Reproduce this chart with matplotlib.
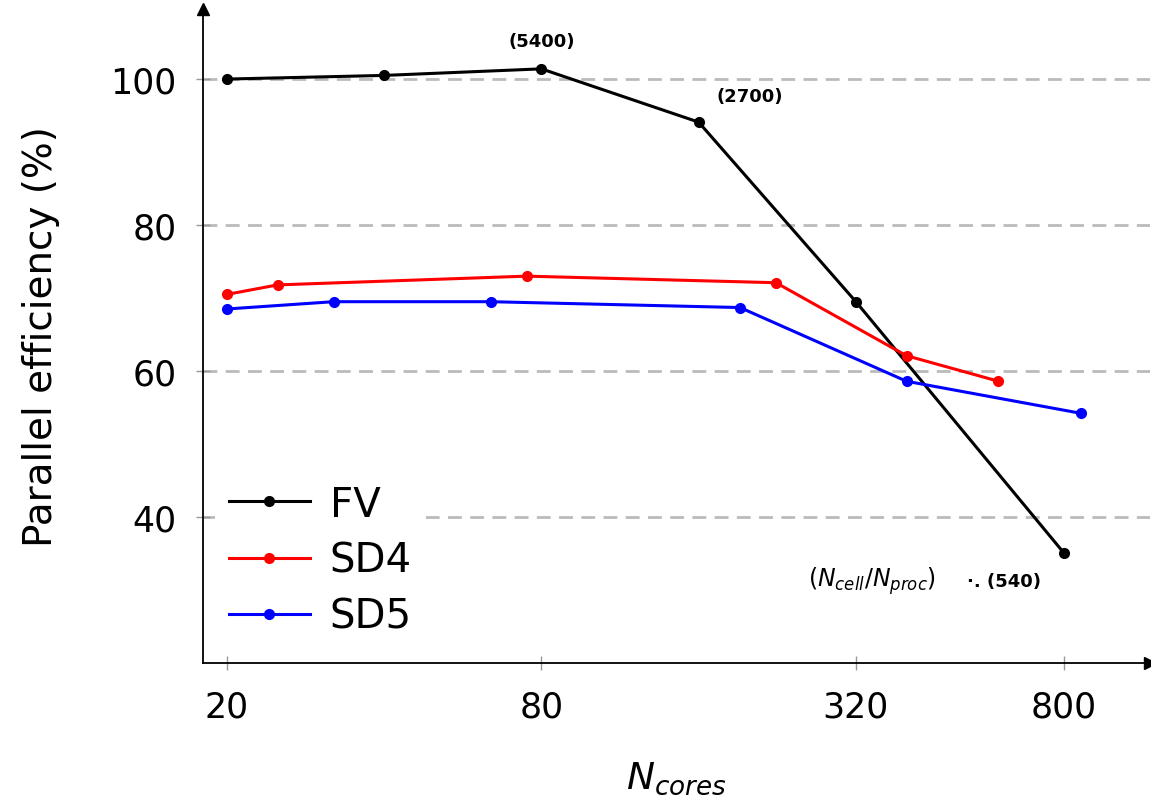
import matplotlib
matplotlib.use("Agg")
import matplotlib.pyplot as plt
import numpy as np

# data
fv_cores = [20, 40, 80, 160, 320, 800]
fv_eff = [100.0, 100.5, 101.4, 94.1, 69.5, 35.1]
sd4_cores = [20, 25, 75, 225, 400, 600]
sd4_eff = [70.5, 71.8, 73.0, 72.1, 62.1, 58.6]
sd5_cores = [20, 32, 64, 192, 400, 864]
sd5_eff = [68.5, 69.5, 69.5, 68.7, 58.6, 54.2]

xticks = [20, 80, 320, 800]
yticks = [40, 60, 80, 100]

plt.rcParams['mathtext.fontset'] = 'dejavusans'

fig = plt.figure(figsize=(11.51, 8.03), dpi=100)
ax = fig.add_axes([203 / 1151, 139 / 803, 947 / 1151, 654 / 803])

for y in yticks:
    ax.axhline(y, color='#bbbbbb', ls=(0, (5, 3)), lw=2, zorder=0)

ax.plot(fv_cores, fv_eff, color='black', marker='o', ms=7, lw=2.2, label='FV', clip_on=False)
ax.plot(sd4_cores, sd4_eff, color='red', marker='o', ms=7, lw=2.2, label='SD4', clip_on=False)
ax.plot(sd5_cores, sd5_eff, color='blue', marker='o', ms=7, lw=2.2, label='SD5', clip_on=False)

ax.set_xscale('log')
ax.set_xlim(18.0, 1170)
ax.set_ylim(20, 109.6)
ax.set_xticks(xticks)
ax.set_xticklabels([str(t) for t in xticks])
ax.minorticks_off()
ax.set_yticks(yticks)
ax.tick_params(axis='both', direction='inout', length=10, width=1, color='#999999',
               labelsize=25, pad=14)

for s in ['top', 'right']:
    ax.spines[s].set_visible(False)
for s in ['left', 'bottom']:
    ax.spines[s].set_linewidth(1.3)
ax.plot(1, 0, '>k', ms=8, transform=ax.transAxes, clip_on=False)
ax.plot(0, 1, '^k', ms=8, transform=ax.transAxes, clip_on=False)

ax.set_ylabel('Parallel efficiency (%)', fontsize=28, labelpad=36)
ax.set_xlabel('$N_{cores}$', fontsize=27, labelpad=26)

ax.annotate('(5400)', (80, 101.4), xytext=(0, 20), textcoords='offset points',
            ha='center', va='center', fontsize=13, fontweight='bold')
ax.annotate('(2700)', (160, 94.1), xytext=(37, 19), textcoords='offset points',
            ha='center', va='center', fontsize=13, fontweight='bold')
ax.annotate('$(N_{cell}/N_{proc})$', (800, 35.1), xytext=(-138, -20), textcoords='offset points',
            ha='center', va='center', fontsize=17)
ax.annotate('·. (540)', (800, 35.1), xytext=(-70, -20), textcoords='offset points',
            ha='left', va='center', fontsize=13, fontweight='bold')

leg = ax.legend(loc='lower left', bbox_to_anchor=(0.0, 0.0), fontsize=29, frameon=True,
                framealpha=1, edgecolor='none', handlelength=2.0, borderpad=0.35,
                labelspacing=0.4, handletextpad=0.5, borderaxespad=0.3)

fig.savefig('out.png', dpi=100)
